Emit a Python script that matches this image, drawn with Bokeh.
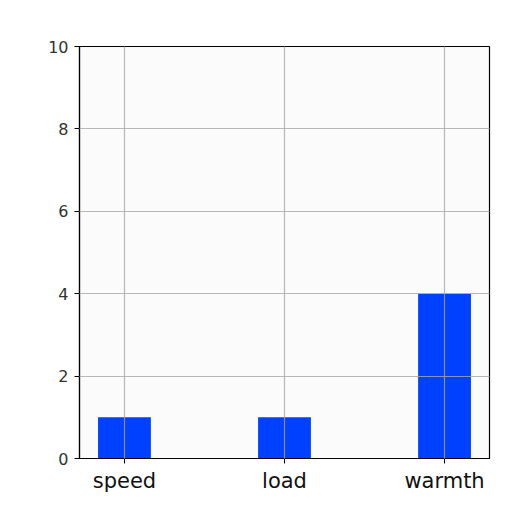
from bokeh.plotting import figure
from bokeh.models import FactorRange, Range1d, FixedTicker
from bokeh.embed import file_html
from bokeh.resources import INLINE

categories = ["speed", "load", "warmth"]
values = [1, 1, 4]
y_ticks = [0, 2, 4, 6, 8, 10]

p = figure(
    x_range=FactorRange(*categories, range_padding=-0.219, range_padding_units="absolute"),
    y_range=Range1d(0, 10),
    width=504, height=504,
    output_backend="svg", toolbar_location=None,
    min_border_left=79, min_border_right=15,
    min_border_top=46, min_border_bottom=46,
)
p.vbar(x=categories, top=values, width=0.33, color="#0040ff", line_color=None)

p.yaxis.ticker = FixedTicker(ticks=y_ticks)
for ax in (p.xaxis, p.yaxis):
    ax.axis_line_color = "black"
    ax.axis_line_width = 1.2
    ax.major_tick_line_color = "black"
    ax.major_tick_out = 5
    ax.major_tick_in = 0
    ax.minor_tick_line_color = None
p.xaxis.major_label_text_font = "DejaVu Sans"
p.xaxis.major_label_text_font_size = "21px"
p.xaxis.major_label_text_color = "#111111"
p.xaxis.major_label_standoff = 5
p.yaxis.major_label_text_font = "DejaVu Sans"
p.yaxis.major_label_text_font_size = "16px"
p.yaxis.major_label_text_color = "#333333"
p.yaxis.major_label_standoff = 6

p.xgrid.grid_line_color = "#a8a8a8"
p.ygrid.grid_line_color = "#a8a8a8"
p.xgrid.grid_line_width = 1.2
p.ygrid.grid_line_width = 1.2
p.xgrid.level = "overlay"
p.ygrid.level = "overlay"
p.grid.grid_line_alpha = 0.8

p.outline_line_color = "black"
p.outline_line_width = 1.2
p.background_fill_color = "#fbfbfb"
p.border_fill_color = "white"

open("out.html", "w").write(file_html(p, INLINE))
